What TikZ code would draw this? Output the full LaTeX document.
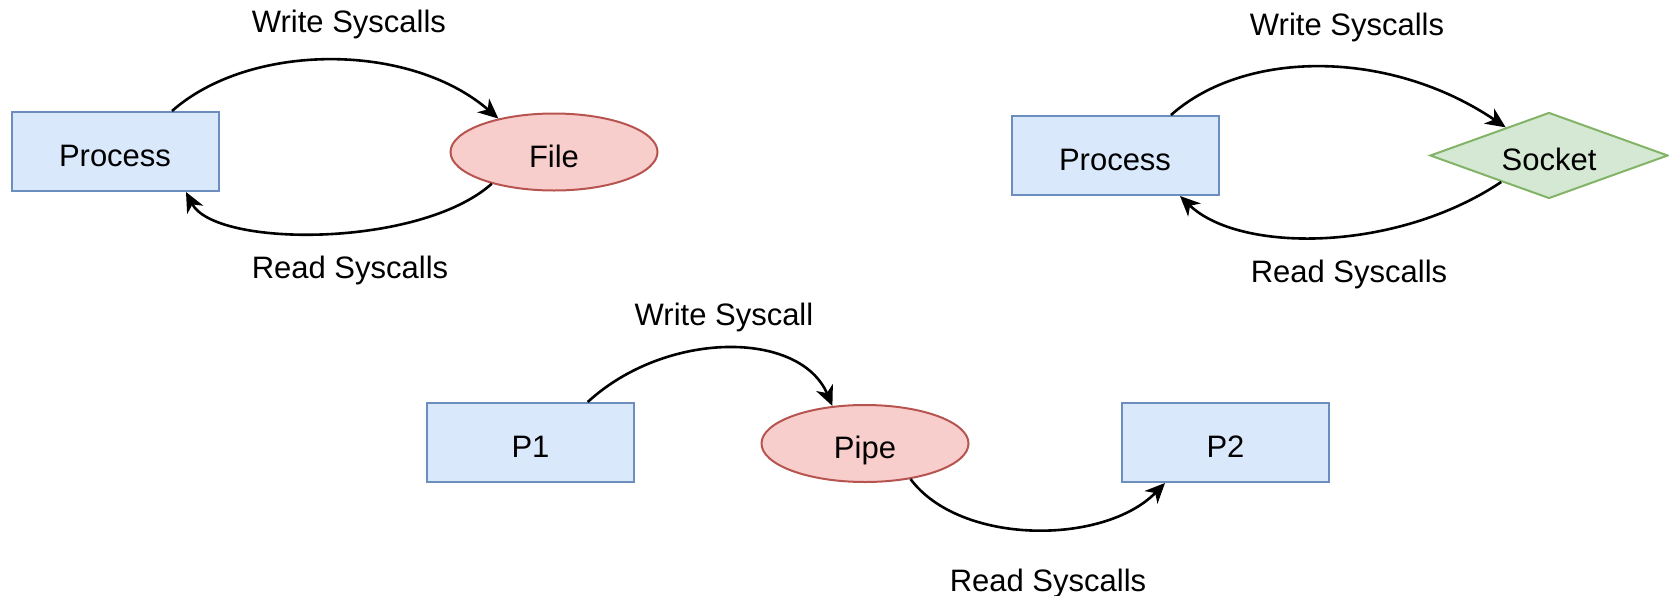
\documentclass[tikz,border=0pt]{standalone}
\usepackage{fontspec}
\setmainfont{Liberation Sans}
\usetikzlibrary{shapes.geometric,arrows.meta}

\definecolor{procfill}{HTML}{DAE8FC}
\definecolor{procline}{HTML}{6C8EBF}
\definecolor{redfill}{HTML}{F8CECC}
\definecolor{redline}{HTML}{B85450}
\definecolor{greenfill}{HTML}{D5E8D4}
\definecolor{greenline}{HTML}{82B366}

\tikzset{
  every node/.style={font=\fontsize{15.5}{18}\selectfont, inner sep=0pt},
  shapetext/.style={text height=15pt, text depth=0pt, line width=1pt},
  procbox/.style={shapetext, rectangle, draw=procline, fill=procfill,
    minimum width=103.5pt, minimum height=39.5pt},
  redoval/.style={shapetext, ellipse, draw=redline, fill=redfill,
    minimum width=103.5pt, minimum height=38.5pt},
  greendia/.style={shapetext, diamond, shape aspect=2.7, draw=greenline, fill=greenfill,
    minimum width=119pt, minimum height=43pt},
  flow/.style={line width=1.3pt, -{Stealth[length=10pt,width=9pt,inset=3pt]}},
  lbl/.style={text=black}
}

\begin{document}
\begin{tikzpicture}[x=0.5pt, y=-0.5pt]
  \useasboundingbox (0,0) rectangle (1669,595);

  % file pair
  \node[procbox] (proc1) at (115,151.5) {Process};
  \node[redoval] (file) at (554,152) {File};
  \node[lbl] (w1) at (349,24.5) {Write Syscalls};
  \node[lbl] (r1) at (350,270.5) {Read Syscalls};
  \draw[flow] ([xshift=28.5pt]proc1.north) .. controls (250,42) and (410,42) .. (file.149);
  \draw[flow] (file.207) .. controls (420,248) and (215,248) .. ([xshift=35.5pt]proc1.south);

  % socket pair
  \node[procbox] (proc2) at (1115,155.5) {Process};
  \node[greendia] (sock) at (1549,155.5) {Socket};
  \node[lbl] (w2) at (1347,27.5) {Write Syscalls};
  \node[lbl] (r2) at (1349,274.5) {Read Syscalls};
  \draw[flow] ([xshift=28pt]proc2.north) .. controls (1245,49) and (1390,49) .. (sock.147);
  \draw[flow] (sock.209) .. controls (1395,253) and (1239,253) .. ([xshift=32.5pt]proc2.south);

  % pipe between two processes
  \node[procbox] (p1) at (530.5,442.5) {P1};
  \node[redoval] (pipe) at (865,443.5) {Pipe};
  \node[procbox] (p2) at (1225.5,442.5) {P2};
  \node[lbl] (w3) at (724,317.5) {Write Syscall};
  \node[lbl] (r3) at (1048,583) {Read Syscalls};
  \draw[flow] ([xshift=28.6pt]p1.north) .. controls (666,330) and (800,330) .. (pipe.131);
  \draw[flow] (pipe.322) .. controls (960,545.5) and (1104,545.5) .. ([xshift=-30.25pt]p2.south);
\end{tikzpicture}
\end{document}
